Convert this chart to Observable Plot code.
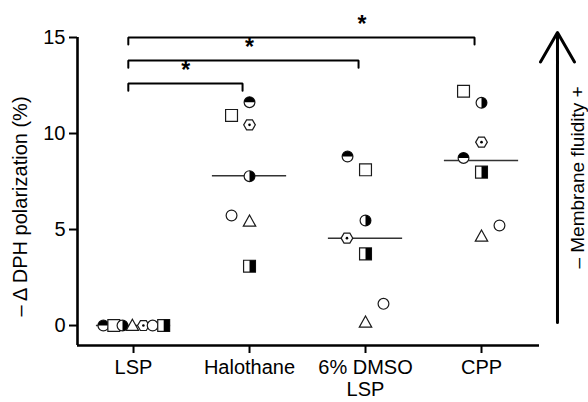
<!DOCTYPE html>
<html>
<head>
<meta charset="utf-8">
<script src="https://cdn.jsdelivr.net/npm/d3@7"></script>
<script src="https://cdn.jsdelivr.net/npm/@observablehq/plot@0.6"></script>
<style>
  html, body { margin: 0; padding: 0; background: #fff; }
  #chart { width: 588px; height: 402px; }
</style>
</head>
<body>
<div id="chart"></div>
<script>
// ---- data ----
const categories = ["LSP", "Halothane", "6% DMSO\nLSP", "CPP"];
const shapes = ["halfTopCircle", "square", "halfRightCircle", "triangle", "hexDot", "circle", "halfRightSquare"];
// values per group, in the order of `shapes`
const valuesLSP       = [0, 0, 0, 0, 0, 0, 0];
const valuesHalothane = [11.63, 10.94, 7.78, 5.43, 10.45, 5.73, 3.09];
const valuesDMSO      = [8.80, 8.11, 5.47, 0.17, 4.55, 1.13, 3.73];
const valuesCPP       = [8.73, 12.2, 11.6, 4.65, 9.55, 5.21, 7.99];
// horizontal jitter (in category units), per group, order of `shapes`
const jitterLSP       = [-0.26, -0.17, -0.095, -0.01, 0.085, 0.165, 0.26];
const jitterHalothane = [0, -0.155, 0, 0, 0, -0.155, 0];
const jitterDMSO      = [-0.155, 0, 0, 0, -0.16, 0.155, 0];
const jitterCPP       = [-0.155, -0.155, 0, 0, 0, 0.155, 0];
// group medians
const medians = [0, 7.8, 4.55, 8.6];
// significance brackets (from group index a to b)
const bracketFrom = [0, 0, 0];
const bracketTo   = [1, 2, 3];
const bracketY    = [12.6, 13.8, 15.0];
const starX       = [0.45, 1.0, 1.97];
const yTicks = [0, 5, 10, 15];
const yLabel = "\u2013 \u0394 DPH polarization (%)";
const rightLabel = "\u2013 Membrane fluidity +";

const allValues = [valuesLSP, valuesHalothane, valuesDMSO, valuesCPP];
const allJitter = [jitterLSP, jitterHalothane, jitterDMSO, jitterCPP];

const points = [];
categories.forEach((c, gi) => {
  shapes.forEach((s, si) => {
    points.push({x: gi + allJitter[gi][si], y: allValues[gi][si], shape: s});
  });
});

// ---- custom symbols ----
const R = s => Math.sqrt(s / Math.PI);
const sym = {
  circle: {draw(ctx, size) { const r = R(size); ctx.moveTo(r, 0); ctx.arc(0, 0, r, 0, 2 * Math.PI); }},
  square: {draw(ctx, size) { const h = R(size) * 1.1; ctx.rect(-h, -h, 2 * h, 2 * h); }},
  triangle: {draw(ctx, size) { const r = R(size); ctx.moveTo(0, -1.15 * r); ctx.lineTo(1.15 * r, 0.9 * r); ctx.lineTo(-1.15 * r, 0.9 * r); ctx.closePath(); }},
  hexagon: {draw(ctx, size) { const r = R(size) * 1.08; const h = r * 0.85;
    ctx.moveTo(-r, 0); ctx.lineTo(-r / 2, -h); ctx.lineTo(r / 2, -h); ctx.lineTo(r, 0); ctx.lineTo(r / 2, h); ctx.lineTo(-r / 2, h); ctx.closePath(); }},
  topHalf: {draw(ctx, size) { const r = R(size); ctx.moveTo(-r, 0); ctx.arc(0, 0, r, Math.PI, 2 * Math.PI); ctx.closePath(); }},
  rightHalf: {draw(ctx, size) { const r = R(size); ctx.moveTo(0, -r); ctx.arc(0, 0, r, -Math.PI / 2, Math.PI / 2); ctx.closePath(); }},
  rightHalfSquare: {draw(ctx, size) { const h = R(size) * 1.1; ctx.rect(0, -h, h, 2 * h); }}
};
const outlineOf = {
  halfTopCircle: sym.circle, square: sym.square, halfRightCircle: sym.circle,
  triangle: sym.triangle, hexDot: sym.hexagon, circle: sym.circle, halfRightSquare: sym.square
};
const fillOf = {
  halfTopCircle: {symbol: sym.topHalf}, halfRightCircle: {symbol: sym.rightHalf},
  halfRightSquare: {symbol: sym.rightHalfSquare}, hexDot: {symbol: sym.circle, r: 1.3}
};

const font = "'Liberation Sans', Arial, Helvetica, sans-serif";
const xLeft = -0.483, xRight = 3.5, yBottom = -1.04, yTop = 15;

const markerMarks = [];
shapes.forEach(s => {
  const subset = points.filter(d => d.shape === s);
  markerMarks.push(Plot.dot(subset, {x: "x", y: "y", symbol: outlineOf[s], r: 5.4, fill: "white", stroke: "#1a1a1a", strokeWidth: 1.2}));
  if (fillOf[s]) {
    markerMarks.push(Plot.dot(subset, {x: "x", y: "y", symbol: fillOf[s].symbol, r: fillOf[s].r || 5.4, fill: "black", stroke: "none"}));
  }
});

const bracketPts = [];
const drop = 0.37;
bracketFrom.forEach((a, i) => {
  const b = bracketTo[i], y = bracketY[i];
  const xa = a - 0.045, xb = b - 0.06;
  bracketPts.push({k: i, x: xa, y: y - drop}, {k: i, x: xa, y}, {k: i, x: xb, y}, {k: i, x: xb, y: y - drop});
});
const stars = bracketFrom.map((a, i) => ({x: starX[i], y: bracketY[i] + 0.3}));

const chart = Plot.plot({
  width: 588, height: 402,
  marginLeft: 77, marginRight: 49, marginTop: 37, marginBottom: 57,
  style: {fontFamily: font, background: "white", color: "black", overflow: "visible"},
  x: {domain: [xLeft, xRight]},
  y: {domain: [yBottom, yTop]},
  marks: [
    Plot.axisY({ticks: yTicks, tickSize: 8, tickPadding: 4, fontSize: 20, strokeWidth: 2, label: null}),
    Plot.axisX({ticks: [0, 1, 2, 3], tickFormat: i => categories[i], tickSize: 8, tickPadding: 5, fontSize: 20, strokeWidth: 2, label: null, lineHeight: 1.1}),
    Plot.ruleX([xLeft], {y1: yBottom, y2: yTop, strokeWidth: 2.6}),
    Plot.ruleY([yBottom], {x1: xLeft, x2: xRight, strokeWidth: 2.6}),
    Plot.ruleY(medians, {y: d => d, x1: (d, i) => i - 0.32, x2: (d, i) => i + 0.32, stroke: "#333", strokeWidth: 1.5}),
    ...markerMarks,
    Plot.line(bracketPts, {x: "x", y: "y", z: "k", stroke: "black", strokeWidth: 2, strokeLinejoin: "miter"}),
    Plot.text(stars, {x: "x", y: "y", text: () => "*", fontSize: 23, fontWeight: "bold", lineAnchor: "bottom"}),
    Plot.text([yLabel], {frameAnchor: "left", textAnchor: "middle", dx: -57, dy: 15, rotate: -90, fontSize: 20}),
    Plot.arrow([{x: 3.655, y1: 0.16, y2: 15.26}], {x1: "x", x2: "x", y1: "y1", y2: "y2", strokeWidth: 3, headLength: 17, headAngle: 60, stroke: "black"}),
    Plot.text([rightLabel], {frameAnchor: "right", textAnchor: "middle", dx: 38, dy: -14, rotate: -90, fontSize: 19})
  ]
});
document.getElementById("chart").appendChild(chart);
</script>
</body>
</html>
